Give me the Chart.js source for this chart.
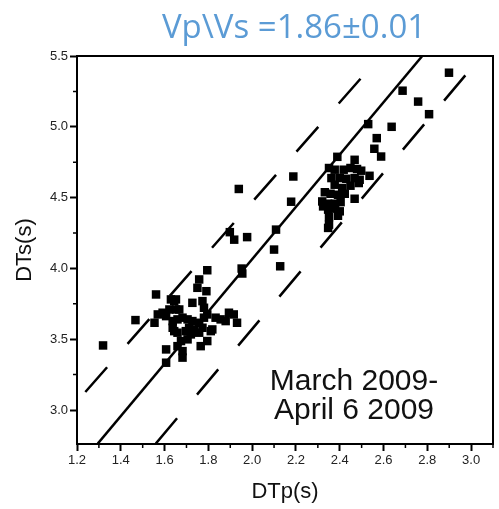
<!DOCTYPE html>
<html><head><meta charset="utf-8">
<script src="https://cdn.jsdelivr.net/npm/chart.js@4"></script>
<style>html,body{margin:0;padding:0;background:#fff;}#wrap{position:relative;width:499px;height:509px;}</style>
</head><body><div id="wrap"><canvas id="c" width="499" height="509"></canvas></div>
<script>
const titleText = 'Vp\\Vs =1.86\u00B10.01';
const xTitle = 'DTp(s)';
const yTitle = 'DTs(s)';
const noteLines = ['March 2009-', 'April 6 2009'];
const xTicks = [1.2, 1.4, 1.6, 1.8, 2.0, 2.2, 2.4, 2.6, 2.8, 3.0];
const yTicks = [3.0, 3.5, 4.0, 4.5, 5.0, 5.5];
const xMinorTicks = [1.3, 1.5, 1.7, 1.9, 2.1, 2.3, 2.5, 2.7, 2.9, 3.1];
const yMinorTicks = [3.25, 3.75, 4.25, 4.75, 5.25];

const dtp = [
 1.319,1.467,1.561,1.569,1.591,1.607,1.554,1.629,1.644,1.652,1.637,1.659,1.682,1.705,1.727,1.758,1.780,1.795,1.833,1.856,
 1.879,1.894,1.916,1.931,1.727,1.773,1.780,1.758,1.750,1.791,1.795,1.644,1.659,1.712,1.735,1.773,1.811,1.758,1.675,1.659,
 1.720,1.705,1.795,1.765,1.682,1.682,1.607,1.607,1.667,1.622,1.818,1.697,1.637,1.652,
 1.939,2.188,2.178,1.898,1.918,1.977,2.109,2.100,2.128,1.952,1.955,
 2.899,2.687,2.758,2.808,2.530,2.637,2.569,2.558,2.589,2.389,2.468,2.351,2.377,2.418,2.449,2.479,2.498,2.536,2.362,2.400,
 2.430,2.468,2.491,2.377,2.411,2.449,2.487,2.332,2.358,2.392,2.423,2.468,2.320,2.347,2.377,2.404,2.324,2.347,2.379,2.400,
 2.351,2.392,2.351,2.347
];
const dts = [
 3.456,3.635,3.816,3.675,3.687,3.663,3.616,3.781,3.769,3.710,3.628,3.640,3.652,3.640,3.628,3.616,3.652,3.675,3.652,3.640,
 3.628,3.687,3.675,3.616,3.757,3.769,3.722,3.922,3.863,3.839,3.987,3.557,3.546,3.581,3.569,3.581,3.557,3.546,3.487,3.451,
 3.534,3.499,3.487,3.451,3.416,3.370,3.428,3.334,3.710,3.710,3.569,3.557,3.581,3.781,
 4.561,4.649,4.471,4.256,4.203,4.221,4.274,4.133,4.015,3.999,3.964,
 5.382,5.255,5.178,5.089,5.019,5.000,4.920,4.845,4.790,4.788,4.767,4.709,4.697,4.697,4.709,4.702,4.690,4.654,4.638,4.638,
 4.633,4.638,4.626,4.591,4.568,4.584,4.603,4.538,4.527,4.520,4.527,4.492,4.473,4.457,4.457,4.468,4.438,4.415,4.422,4.403,
 4.362,4.372,4.309,4.286
];
const fitX = [1.295, 2.777];
const fitY = [2.763, 5.5];
const upperX = [1.238, 2.586];
const upperY = [3.127, 5.5];
const lowerX = [1.560, 3.048];
const lowerY = [2.763, 5.5];

const pts = (xs, ys) => xs.map((x, i) => ({x: x, y: ys[i]}));

const decor = {
  id: 'decor',
  afterDraw(chart) {
    const ctx = chart.ctx, a = chart.chartArea;
    const xs = chart.scales.x, ys = chart.scales.y;
    ctx.save();
    ctx.strokeStyle = '#000';
    ctx.lineWidth = 2;
    ctx.beginPath();
    ctx.moveTo(a.left, a.top); ctx.lineTo(a.right, a.top); ctx.lineTo(a.right, a.bottom);
    ctx.stroke();
    ctx.lineWidth = 1.5;
    ctx.beginPath();
    xMinorTicks.forEach(v => { const p = xs.getPixelForValue(v); ctx.moveTo(p, a.bottom); ctx.lineTo(p, a.bottom + 4); });
    yMinorTicks.forEach(v => { const p = ys.getPixelForValue(v); ctx.moveTo(a.left, p); ctx.lineTo(a.left - 4, p); });
    ctx.stroke();
    ctx.fillStyle = '#5b9bd5';
    ctx.font = '33px "Open Sans"';
    ctx.textAlign = 'center';
    ctx.textBaseline = 'alphabetic';
    ctx.fillText(titleText, 294, 38);
    ctx.fillStyle = '#111';
    ctx.font = '30px "Liberation Sans"';
    ctx.fillText(noteLines[0], 354, 390);
    ctx.fillText(noteLines[1], 354, 419);
    ctx.restore();
  }
};

const tickFont = {family: 'Liberation Sans', size: 13};
new Chart(document.getElementById('c'), {
  type: 'scatter',
  data: {
    datasets: [
      {data: pts(dtp, dts), pointStyle: 'rect', pointRadius: 6, pointHoverRadius: 6, backgroundColor: '#000', borderWidth: 0},
      {data: pts(fitX, fitY), showLine: true, pointRadius: 0, borderColor: '#000', borderWidth: 2.5},
      {data: pts(upperX, upperY), showLine: true, pointRadius: 0, borderColor: '#000', borderWidth: 2.5, borderDash: [33, 31]},
      {data: pts(lowerX, lowerY), showLine: true, pointRadius: 0, borderColor: '#000', borderWidth: 2.5, borderDash: [33, 31]}
    ]
  },
  options: {
    responsive: false, animation: false, devicePixelRatio: 1,
    layout: {padding: {top: 56, right: 2, bottom: 0, left: 0}},
    plugins: {legend: {display: false}, tooltip: {enabled: false}, title: {display: false}},
    scales: {
      x: {
        type: 'linear', min: 1.2, max: 3.1,
        afterBuildTicks: s => { s.ticks = xTicks.map(v => ({value: v})); },
        afterFit: s => { s.height = 65; },
        ticks: {font: tickFont, color: '#222', padding: 2, maxRotation: 0, autoSkip: false, callback: v => Number(v).toFixed(1)},
        grid: {drawOnChartArea: false, drawTicks: true, tickLength: 7, tickWidth: 2, tickColor: '#000'},
        border: {display: true, color: '#000', width: 2},
        title: {display: true, text: xTitle, color: '#111', font: {family: 'Liberation Sans', size: 22}, padding: {top: 0, bottom: 4}}
      },
      y: {
        type: 'linear', min: 2.76, max: 5.5,
        afterBuildTicks: s => { s.ticks = yTicks.map(v => ({value: v})); },
        afterFit: s => { s.width = 77; },
        ticks: {font: tickFont, color: '#222', padding: 2, autoSkip: false, callback: v => Number(v).toFixed(1)},
        grid: {drawOnChartArea: false, drawTicks: true, tickLength: 7, tickWidth: 2, tickColor: '#000'},
        border: {display: true, color: '#000', width: 2},
        title: {display: true, text: yTitle, color: '#111', font: {family: 'Liberation Sans', size: 22}, padding: {top: 12, bottom: 0}}
      }
    }
  },
  plugins: [decor]
});
</script></body></html>
